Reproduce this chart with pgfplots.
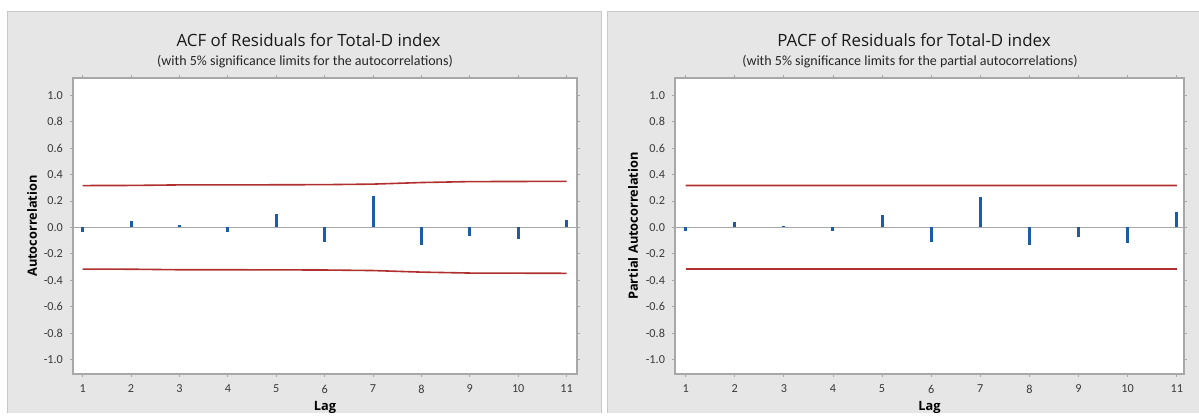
\documentclass[border=0pt]{standalone}
\usepackage{pgfplots}
\pgfplotsset{compat=1.18}
\usepackage{pgfplotstable}
\usepackage{fontspec}
\setmainfont{Carlito}
\newfontfamily\titlefont{Open Sans}
\definecolor{panelgray}{HTML}{E6E6E6}
\definecolor{panelborder}{HTML}{C8C8C8}
\definecolor{barblue}{HTML}{1A5CA8}
\definecolor{limred}{HTML}{B03030}
\definecolor{framegray}{HTML}{A8A8A8}
\definecolor{textgray}{HTML}{3A3A3A}

\pgfplotstableread{
lag acf upper lower
1 -0.033 0.316 -0.316
2 0.045 0.317 -0.317
3 0.015 0.321 -0.321
4 -0.033 0.321 -0.321
5 0.100 0.322 -0.322
6 -0.114 0.323 -0.323
7 0.240 0.327 -0.327
8 -0.130 0.339 -0.339
9 -0.063 0.346 -0.346
10 -0.090 0.347 -0.347
11 0.058 0.348 -0.348
}\acfdata

\pgfplotstableread{
lag pacf upper lower
1 -0.030 0.3165 -0.316
2 0.041 0.3165 -0.316
3 0.010 0.3165 -0.316
4 -0.030 0.3165 -0.316
5 0.095 0.3165 -0.316
6 -0.110 0.3165 -0.316
7 0.233 0.3165 -0.316
8 -0.130 0.3165 -0.316
9 -0.070 0.3165 -0.316
10 -0.120 0.3165 -0.316
11 0.113 0.3168 -0.316
}\pacfdata

\pgfplotsset{minitab/.style={
  scale only axis,
  anchor=south west,
  width=252pt, height=148pt,
  ymin=-1.11, ymax=1.13,
  ytick={-1,-0.8,-0.6,-0.4,-0.2,0,0.2,0.4,0.6,0.8,1},
  xtick={1,2,3,4,5,6,7,8,9,10,11},
  /pgf/number format/assume math mode=true,
  yticklabel style={/pgf/number format/fixed, /pgf/number format/fixed zerofill, /pgf/number format/precision=1},
  tick align=outside,
  major tick length=1.5pt,
  tick style={framegray, line width=0.4pt},
  axis line style={framegray, line width=0.6pt},
  axis background/.style={fill=white},
  tick label style={font=\fontsize{6.1}{7}\selectfont, text=textgray},
  xticklabel style={yshift=-0.5pt},
  xlabel style={at={(axis description cs:0.5,0)}, anchor=base, yshift=-18pt, font=\titlefont\bfseries\fontsize{6.4}{7}\selectfont, text=black},
  ylabel style={anchor=center, font=\titlefont\bfseries\fontsize{6.4}{7}\selectfont, text=black},
  clip=true,
}}

\begin{document}
\begin{tikzpicture}
\begin{scope}[x=0.5pt,y=0.5pt]
\path[use as bounding box] (0,0) rectangle (1199,412);
\fill[white] (0,0) rectangle (1199,412);
\begin{scope}
\clip (0,0) rectangle (1199,412);
\filldraw[fill=panelgray,draw=panelborder,line width=0.5pt] (7,-5) rectangle (601,401);
\filldraw[fill=panelgray,draw=panelborder,line width=0.5pt] (607,-5) rectangle (1210,401);
\end{scope}
\node[anchor=base, font=\titlefont\fontsize{8.45}{9}\selectfont, text=black!90] at (308.6,365.3) {ACF of Residuals for Total-D index};
\node[anchor=base, font=\fontsize{7}{8}\selectfont, text=black!85] at (305,346.7) {(with 5\% significance limits for the autocorrelations)};
\node[anchor=base, font=\titlefont\fontsize{8.45}{9}\selectfont, text=black!90] at (914,365.3) {PACF of Residuals for Total-D index};
\node[anchor=base, font=\fontsize{7}{8}\selectfont, text=black!85] at (910,346.7) {(with 5\% significance limits for the partial autocorrelations)};
\end{scope}

\begin{axis}[minitab, at={(36.5pt,19pt)}, xmin=0.80, xmax=11.215,
  xlabel={Lag}, ylabel={Autocorrelation},
  ylabel style={at={(axis description cs:-0.0813,0.5)}}]
\addplot[framegray, line width=0.5pt] coordinates {(0.5,0) (11.5,0)};
\addplot[limred, line width=0.8pt] table[x=lag,y=upper]{\acfdata};
\addplot[limred, line width=0.8pt] table[x=lag,y=lower]{\acfdata};
\addplot[ycomb, barblue, line width=1.5pt] table[x=lag,y=acf]{\acfdata};
\end{axis}

\begin{axis}[minitab, at={(337.5pt,19pt)}, width=254.5pt, xmin=0.784, xmax=11.147,
  xlabel={Lag}, ylabel={Partial Autocorrelation},
  ylabel style={at={(axis description cs:-0.0825,0.5)}}]
\addplot[framegray, line width=0.5pt] coordinates {(0.5,0) (11.5,0)};
\addplot[limred, line width=0.8pt] table[x=lag,y=lower]{\pacfdata};
\addplot[color={rgb,255:red,176;green,48;blue,48}, line width=0.8pt] table[x=lag,y=upper]{\pacfdata};
\addplot[ycomb, barblue, line width=1.5pt] table[x=lag,y=pacf]{\pacfdata};
\end{axis}
\end{tikzpicture}
\end{document}
